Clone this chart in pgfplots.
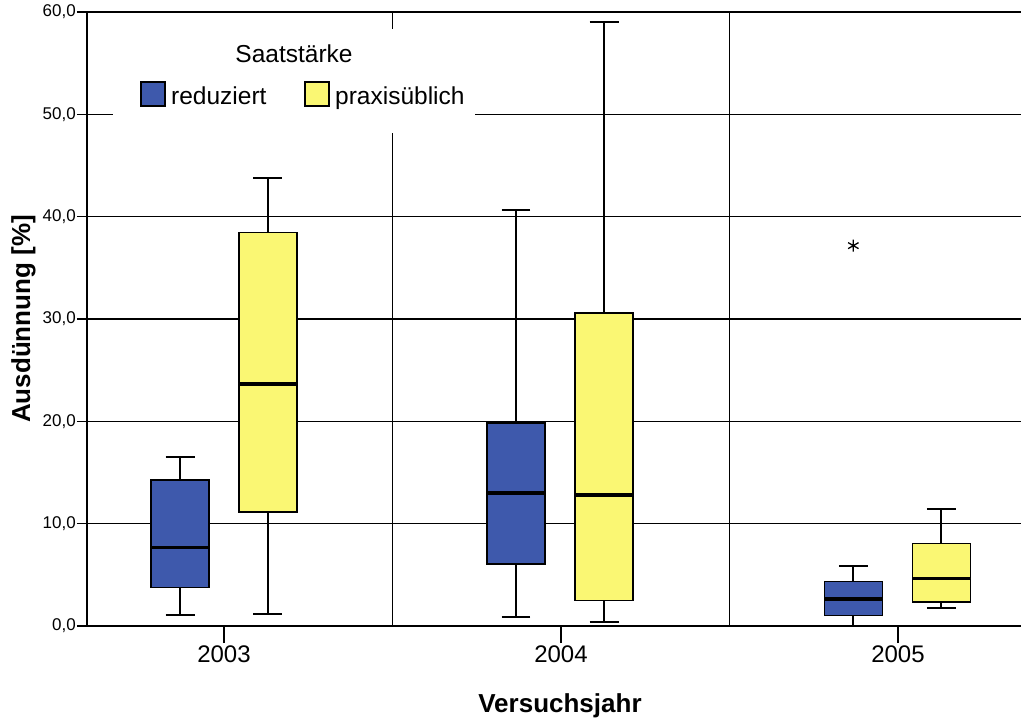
\documentclass[border=0pt]{standalone}
\usepackage{fontspec}
\setmainfont{Liberation Sans}
\usepackage{pgfplots}
\pgfplotsset{compat=1.18}
\usepgfplotslibrary{statistics}
\definecolor{boxblue}{RGB}{62,89,172}
\definecolor{boxyellow}{RGB}{250,247,115}
\begin{document}
\begin{tikzpicture}[x=1pt,y=1pt]
\begin{axis}[
  at={(0,0)}, anchor=south west,
  scale only axis, width=934pt, height=614pt,
  xmin=-0.4065, xmax=2.365, ymin=0, ymax=60,
  clip=false,
  axis x line*=bottom, axis y line*=left,
  axis line style={-, line width=2.5pt},
  xtick={0,1,2}, xticklabels={2003,2004,2005},
  ytick={0,10,20,30,40,50,60},
  yticklabels={{0,0},{10,0},{20,0},{30,0},{40,0},{50,0},{60,0}},
  tick align=outside,
  major tick length=10pt,
  xtick style={/pgfplots/major tick length=17pt, line width=1.5pt, black},
  ytick style={line width=1.5pt, black},
  ymajorgrids, major grid style={line width=1.3pt, black},
  extra x ticks={0.5,1.5}, extra x tick labels={},
  extra x tick style={grid=major, /pgfplots/major tick length=0pt, tick style={draw=none}, major grid style={line width=1.3pt, black}},
  xticklabel style={font=\fontsize{24}{28}\selectfont, inner sep=0pt, yshift=-10pt},
  yticklabel style={font=\fontsize{17}{20}\selectfont, inner sep=1pt},
  xlabel={\bfseries Versuchsjahr},
  ylabel={\bfseries Ausdünnung [\%]},
  xlabel style={font=\fontsize{26}{30}\selectfont, at={(axis description cs:0.5064,0)}, anchor=base, yshift=-86pt},
  ylabel style={font=\fontsize{26}{30}\selectfont, at={(axis description cs:-0.068,0.5)}, anchor=center},
  boxplot/draw direction=y,
  boxplot/box extend=0.172,
  boxplot/whisker extend=0.086,
  boxplot/every median/.style={line width=3.5pt},
  boxplot/every whisker/.style={line width=2pt},
  boxplot/every box/.style={line width=1.5pt},
]
% 2003
\addplot[boxplot prepared={draw position=-0.13, lower whisker=1.04, lower quartile=3.75, median=7.65, upper quartile=14.27, upper whisker=16.5}, fill=boxblue, draw=black] coordinates {};
\addplot[boxplot prepared={draw position=0.13, lower whisker=1.14, lower quartile=11.14, median=23.65, upper quartile=38.47, upper whisker=43.8}, fill=boxyellow, draw=black] coordinates {};
% 2004
\addplot[boxplot prepared={draw position=0.8665, lower whisker=0.85, lower quartile=6.06, median=13.0, upper quartile=19.84, upper whisker=40.65}, fill=boxblue, draw=black] coordinates {};
\addplot[boxplot prepared={draw position=1.128, lower whisker=0.42, lower quartile=2.51, median=12.8, upper quartile=30.6, upper whisker=59.0}, fill=boxyellow, draw=black] coordinates {};
% 2005
\addplot[boxplot prepared={draw position=1.8675, lower whisker=0.0, lower quartile=1.01, median=2.64, upper quartile=4.33, upper whisker=5.86}, fill=boxblue, draw=black, mark=asterisk, mark size=6pt, mark options={solid, black, line width=1.3pt}] coordinates {(0,37.17)};
\addplot[boxplot prepared={draw position=2.129, lower whisker=1.73, lower quartile=2.35, median=4.62, upper quartile=8.05, upper whisker=11.47}, fill=boxyellow, draw=black] coordinates {};
\end{axis}
% legend
\fill[white] (26,493) rectangle (388,597);
\node[anchor=base, inner sep=0pt, font=\fontsize{24.5}{28}\selectfont] at (207,563) {Saatstärke};
\filldraw[fill=boxblue, draw=black, line width=1.5pt] (54,520) rectangle (78,544);
\node[anchor=base west, inner sep=0pt, font=\fontsize{24.5}{28}\selectfont] at (84,521) {reduziert};
\filldraw[fill=boxyellow, draw=black, line width=1.5pt] (218,520) rectangle (242,544);
\node[anchor=base west, inner sep=0pt, font=\fontsize{24.5}{28}\selectfont] at (248,521) {praxisüblich};
\pgfresetboundingbox
\path (-87,-92) rectangle (934,626);
\end{tikzpicture}
\end{document}
